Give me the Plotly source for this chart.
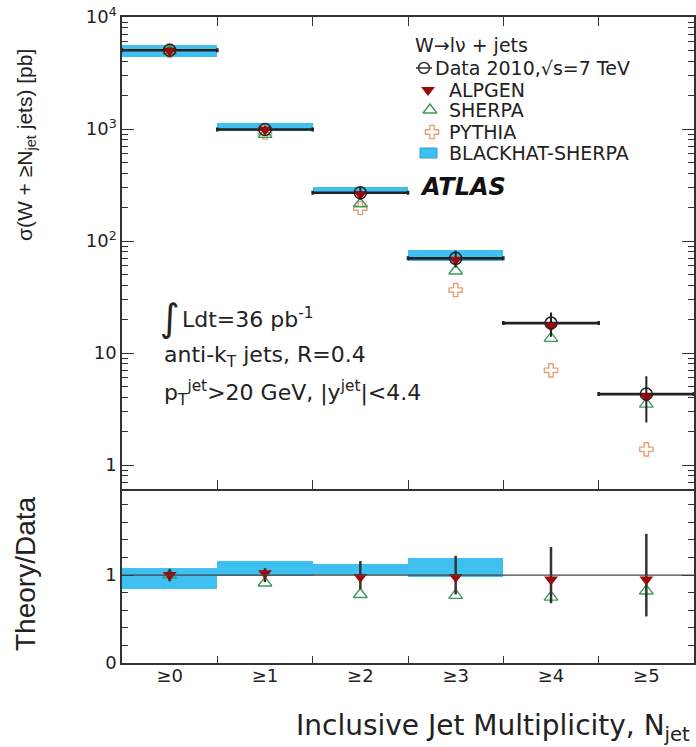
import plotly.graph_objects as go

# ---------------- data ----------------
categories = ["≥0", "≥1", "≥2", "≥3", "≥4", "≥5"]
bin_pos = [0, 1, 2, 3, 4, 5]
bin_edges = [-0.5, 0.5, 1.5, 2.5, 3.5, 4.5, 5.5]

data_xs = [5050, 990, 270, 70, 18.5, 4.3]
data_err = [350, 80, 35, 12, 4.5, 1.9]
alpgen_xs = [5000, 985, 262, 68, 17.5, 4.1]
sherpa_xs = [5000, 895, 215, 54, 13.5, 3.5]
pythia_xs = [5000, 930, 197, 36.5, 7.0, 1.38]
blackhat_pos = [0, 1, 2, 3]
blackhat_lo = [4400, 960, 262, 66]
blackhat_hi = [5650, 1130, 305, 83]

ratio_data_err = [0.07, 0.08, 0.16, 0.22, 0.32, 0.47]
ratio_alpgen = [1.0, 1.02, 0.98, 0.98, 0.95, 0.95]
ratio_sherpa = [1.0, 0.91, 0.78, 0.77, 0.75, 0.82]
blackhat_ratio_lo = [0.84, 0.99, 1.0, 0.98]
blackhat_ratio_hi = [1.08, 1.16, 1.125, 1.19]

ytick_vals = [1, 10, 100, 1000, 10000]
ytick_text = ["1", "10", "10<sup>2</sup>", "10<sup>3</sup>", "10<sup>4</sup>"]
legend_labels = ["Data 2010,\u221as=7 TeV", "ALPGEN", "SHERPA", "PYTHIA", "BLACKHAT-SHERPA"]

# ---------------- styling / layout constants ----------------
W, H = 696, 747
FONT = "Liberation Sans, Arial, sans-serif"
WFONT = "DejaVu Sans, Liberation Sans, sans-serif"
TXT = "#222222"
AX = "#333333"
CYAN = "#3ec1f0"
RED = "#9b0a0a"
GREEN = "#3d9a5e"
ORANGE = "#e8a07a"

legend_rows_px = [68, 90, 110, 132, 153]
legend_key_px = [424, 428, 430, 432, 428]
legend_text_px = [433, 447, 447, 447, 447]

def px_x(p):
    return p / W

def px_y(p):
    return 1 - p / H

x_dom = [px_x(122), px_x(694)]
top_dom = [px_y(489), px_y(17)]
bot_dom = [px_y(663), px_y(489)]

log_minor = [k * 10 ** e for e in range(-1, 4) for k in range(2, 10)]
lin_minor = [i / 5 for i in range(1, 10)]

fig = go.Figure()

# ---- top panel ----
fig.add_trace(go.Bar(
    x=blackhat_pos, base=blackhat_lo,
    y=[h - l for h, l in zip(blackhat_hi, blackhat_lo)],
    width=1.0, marker=dict(color=CYAN, line=dict(width=0)),
    showlegend=False, xaxis="x", yaxis="y",
))
fig.add_trace(go.Scatter(
    x=bin_pos, y=pythia_xs, mode="markers", showlegend=False,
    marker=dict(symbol="cross-open", size=11, color=ORANGE, line=dict(width=1.4, color=ORANGE)),
    xaxis="x", yaxis="y",
))
fig.add_trace(go.Scatter(
    x=bin_pos, y=sherpa_xs, mode="markers", showlegend=False,
    marker=dict(symbol="triangle-up-open", size=12, color=GREEN, line=dict(width=1.4, color=GREEN)),
    xaxis="x", yaxis="y",
))
fig.add_trace(go.Scatter(
    x=bin_pos, y=data_xs, mode="markers", showlegend=False,
    marker=dict(size=1, color="#111"),
    error_x=dict(type="constant", value=0.5, color="#222", thickness=2.6, width=2),
    error_y=dict(type="data", array=data_err, color="#222", thickness=2, width=0),
    xaxis="x", yaxis="y",
))
fig.add_trace(go.Scatter(
    x=bin_pos, y=alpgen_xs, mode="markers", showlegend=False,
    marker=dict(symbol="triangle-down", size=12, color=RED),
    xaxis="x", yaxis="y",
))
fig.add_trace(go.Scatter(
    x=bin_pos, y=data_xs, mode="markers", showlegend=False,
    marker=dict(symbol="circle-open", size=12, color="#222", line=dict(width=1.5, color="#222")),
    xaxis="x", yaxis="y",
))

# ---- ratio panel ----
fig.add_trace(go.Bar(
    x=blackhat_pos, base=blackhat_ratio_lo,
    y=[h - l for h, l in zip(blackhat_ratio_hi, blackhat_ratio_lo)],
    width=1.0, marker=dict(color=CYAN, line=dict(width=0)),
    showlegend=False, xaxis="x2", yaxis="y2",
))
fig.add_trace(go.Scatter(
    x=bin_pos, y=ratio_sherpa, mode="markers", showlegend=False,
    marker=dict(symbol="triangle-up-open", size=12, color=GREEN, line=dict(width=1.4, color=GREEN)),
    xaxis="x2", yaxis="y2",
))
fig.add_trace(go.Scatter(
    x=bin_pos, y=[1] * len(bin_pos), mode="markers", showlegend=False,
    marker=dict(size=1, color="#222"),
    error_y=dict(type="data", array=ratio_data_err, color="#333", thickness=2.5, width=0),
    xaxis="x2", yaxis="y2",
))
fig.add_trace(go.Scatter(
    x=bin_pos, y=ratio_alpgen, mode="markers", showlegend=False,
    marker=dict(symbol="triangle-down", size=12, color=RED),
    xaxis="x2", yaxis="y2",
))

# invisible anchors for the tick-only overlay axes (right / top)
for xa, ya, yy in [("x", "y4", data_xs), ("x4", "y", data_xs), ("x2", "y5", ratio_alpgen)]:
    fig.add_trace(go.Scatter(x=bin_pos, y=yy, mode="markers", marker=dict(opacity=0, size=1),
                             showlegend=False, hoverinfo="skip", xaxis=xa, yaxis=ya))

fig.add_shape(type="line", xref="x2 domain", yref="y2", x0=0, x1=1, y0=1, y1=1,
              line=dict(color="#444", width=1.2), layer="above")

# ---- hand-made legend (keys on a hidden pixel-coordinate axis) ----
key_styles = [
    dict(symbol="circle-open", size=11, color="#333", line=dict(width=1.5, color="#333")),
    dict(symbol="triangle-down", size=12, color=RED),
    dict(symbol="triangle-up-open", size=12, color=GREEN, line=dict(width=1.4, color=GREEN)),
    dict(symbol="cross-open", size=11, color=ORANGE, line=dict(width=1.4, color=ORANGE)),
]
for i, st in enumerate(key_styles):
    fig.add_trace(go.Scatter(x=[legend_key_px[i]], y=[legend_rows_px[i]], mode="markers",
                             marker=st, showlegend=False, hoverinfo="skip",
                             xaxis="x3", yaxis="y3"))
fig.add_shape(type="line", xref="paper", yref="paper",
              x0=px_x(legend_key_px[0] - 8), x1=px_x(legend_key_px[0] + 8),
              y0=px_y(legend_rows_px[0]), y1=px_y(legend_rows_px[0]),
              line=dict(color="#333", width=1.5))
fig.add_shape(type="rect", xref="paper", yref="paper",
              x0=px_x(legend_key_px[4] - 8), x1=px_x(legend_key_px[4] + 9),
              y0=px_y(legend_rows_px[4] - 5), y1=px_y(legend_rows_px[4] + 5),
              fillcolor=CYAN, line=dict(color="#2aa0d0", width=1))

axis_common = dict(showline=True, linecolor=AX, linewidth=1.5,
                   tickcolor=AX, showgrid=False, zeroline=False, automargin=False,
                   tickfont=dict(family=WFONT, size=18, color=TXT))
tick_only = dict(showline=False, showgrid=False, zeroline=False, automargin=False,
                 showticklabels=False, tickcolor=AX, fixedrange=True)

fig.update_layout(
    width=W, height=H, template="none",
    margin=dict(l=0, r=0, t=0, b=0),
    paper_bgcolor="white", plot_bgcolor="rgba(0,0,0,0)",
    barmode="overlay", bargap=0, showlegend=False,
    font=dict(family=FONT, color=TXT),
    xaxis=dict(domain=x_dom, anchor="y", range=[-0.5, 5.5], tickmode="array", mirror=True,
               tickvals=bin_edges, ticks="inside", ticklen=9, showticklabels=False, **axis_common),
    yaxis=dict(domain=top_dom, anchor="x", type="log", range=[-0.214, 4.0], mirror=True,
               tickmode="array", tickvals=ytick_vals, ticktext=ytick_text,
               ticks="inside", ticklen=12,
               minor=dict(tickmode="array", tickvals=log_minor, ticks="inside", ticklen=6,
                          tickcolor=AX, showgrid=False),
               **axis_common),
    xaxis2=dict(domain=x_dom, anchor="y2", range=[-0.5, 5.5], tickmode="array", tickvals=bin_pos,
                ticktext=categories, ticks="", ticklen=0, ticklabelstandoff=-4, mirror=False,
                minor=dict(tickmode="array", tickvals=bin_edges[1:-1],
                           ticks="inside", ticklen=7, tickcolor=AX, showgrid=False),
                **axis_common),
    yaxis2=dict(domain=bot_dom, anchor="x2", range=[0, 1.98], tickmode="array", tickvals=[0, 1],
                ticks="inside", ticklen=12, mirror=True,
                minor=dict(tickmode="array", tickvals=lin_minor, ticks="inside", ticklen=6,
                           tickcolor=AX, showgrid=False),
                **axis_common),
    xaxis3=dict(domain=[0, 1], range=[0, W], visible=False, fixedrange=True),
    yaxis3=dict(domain=[0, 1], range=[H, 0], visible=False, fixedrange=True, anchor="x3"),
    xaxis4=dict(overlaying="x", anchor="y", side="top", range=[-0.5, 5.5], tickmode="array",
                tickvals=bin_edges, ticks="inside", ticklen=9, **tick_only),
    yaxis4=dict(overlaying="y", anchor="x", side="right", type="log", range=[-0.214, 4.0],
                tickmode="array", tickvals=ytick_vals, ticks="inside", ticklen=12,
                minor=dict(tickmode="array", tickvals=log_minor, ticks="inside", ticklen=6,
                           tickcolor=AX, showgrid=False),
                **tick_only),
    yaxis5=dict(overlaying="y2", anchor="x2", side="right", range=[0, 1.98],
                tickmode="array", tickvals=[0, 1], ticks="inside", ticklen=12,
                minor=dict(tickmode="array", tickvals=lin_minor, ticks="inside", ticklen=6,
                           tickcolor=AX, showgrid=False),
                **tick_only),
)

ann = []
ann.append(dict(text="\u03c3(W + \u2265N<sub>jet</sub> jets) [pb]", x=px_x(26), y=px_y(145),
                xref="paper", yref="paper", textangle=-90, showarrow=False,
                font=dict(family=FONT, size=21, color=TXT), xanchor="center", yanchor="middle"))
ann.append(dict(text="Theory/Data", x=px_x(25), y=px_y(574),
                xref="paper", yref="paper", textangle=-90, showarrow=False,
                font=dict(family=FONT, size=28, color=TXT), xanchor="center", yanchor="middle"))
ann.append(dict(text="Inclusive Jet Multiplicity, N<sub>jet</sub>", x=px_x(692), y=px_y(727),
                xref="paper", yref="paper", showarrow=False,
                font=dict(family=WFONT, size=28, color=TXT), xanchor="right", yanchor="middle"))
ann.append(dict(text="<b><i>ATLAS</i></b>", x=px_x(418), y=px_y(187),
                xref="paper", yref="paper", showarrow=False,
                font=dict(family=WFONT, size=24, color="#111"), xanchor="left", yanchor="middle"))
ann.append(dict(text="W\u2192l\u03bd + jets", x=px_x(413), y=px_y(45),
                xref="paper", yref="paper", showarrow=False,
                font=dict(family=WFONT, size=19, color=TXT), xanchor="left", yanchor="middle"))
for lbl, ry, tx in zip(legend_labels, legend_rows_px, legend_text_px):
    ann.append(dict(text=lbl, x=px_x(tx), y=px_y(ry), xref="paper", yref="paper", showarrow=False,
                    font=dict(family=WFONT, size=19, color=TXT), xanchor="left", yanchor="middle"))
ann.append(dict(text="\u222b", x=px_x(158), y=px_y(318),
                xref="paper", yref="paper", showarrow=False,
                font=dict(family="DejaVu Sans, sans-serif", size=38, color=TXT), xanchor="left", yanchor="middle"))
ann.append(dict(text="Ldt=36 pb<sup>-1</sup>", x=px_x(180), y=px_y(318),
                xref="paper", yref="paper", showarrow=False,
                font=dict(family=WFONT, size=22, color=TXT), xanchor="left", yanchor="middle"))
ann.append(dict(text="anti-k<sub>T</sub> jets, R=0.4", x=px_x(162), y=px_y(357),
                xref="paper", yref="paper", showarrow=False,
                font=dict(family=WFONT, size=22, color=TXT), xanchor="left", yanchor="middle"))
ann.append(dict(text="p<sub>T</sub><sup>jet</sup>>20 GeV, |y<sup>jet</sup>|<4.4", x=px_x(162), y=px_y(393),
                xref="paper", yref="paper", showarrow=False,
                font=dict(family=WFONT, size=22, color=TXT), xanchor="left", yanchor="middle"))
fig.update_layout(annotations=ann)

fig.write_html("out.html")
